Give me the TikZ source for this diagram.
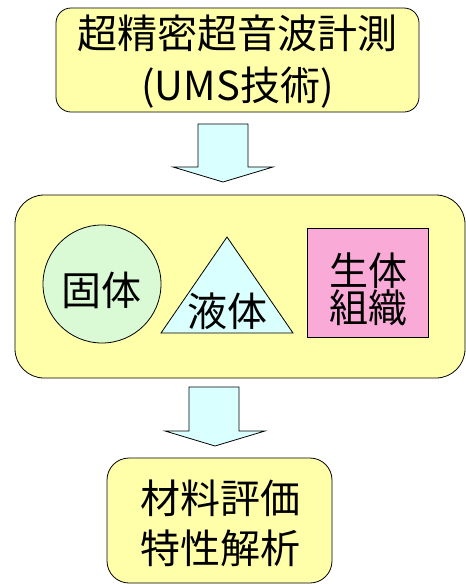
\documentclass[tikz,border=0pt]{standalone}
\usepackage{fontspec}
\setmainfont{Noto Sans CJK JP}
\definecolor{paleyellow}{RGB}{255,255,170}
\definecolor{palegreen}{RGB}{217,250,213}
\definecolor{palecyan}{RGB}{217,255,255}
\definecolor{palepink}{RGB}{250,170,215}
\tikzset{
  bigtext/.style={font=\fontsize{40}{52}\selectfont, align=center, inner sep=0pt},
  thinline/.style={draw=black, line width=0.8pt},
  blockarrow/.style={thinline, fill=palecyan, line join=miter}
}
\begin{document}
\begin{tikzpicture}[x=1pt, y=-1pt]
        \useasboundingbox (0,0) rectangle (466,584);
        \draw [thinline, fill=paleyellow, rounded corners=15pt] (56,8) rectangle (419,112);
        \node [bigtext] (ums) at (237.5,62) {超精密超音波計測\\(UMS技術)};
        \draw [blockarrow] (198,124) -- (248,124) -- (248,167) -- (273,167) -- (223,182) -- (173,167) -- (198,167) -- cycle;
        \draw [thinline, fill=paleyellow, rounded corners=29pt] (15,195) rectangle (465,378);
        \draw [thinline, fill=palegreen] (102,284) circle (59);
        \node [bigtext] (solid) at (101,290) {固体};
        \draw [thinline, fill=palecyan] (227,237) -- (293,333) -- (161,333) -- cycle;
        \node [bigtext] (liquid) at (227,311) {液体};
        \draw [thinline, fill=palepink] (307,228) rectangle (428,337);
        \node [bigtext, font=\fontsize{39}{37}\selectfont] (tissue) at (368,289) {生体\\組織};
        \draw [blockarrow] (189,387) -- (239,387) -- (239,431) -- (265,431) -- (215,446) -- (165,431) -- (189,431) -- cycle;
        \draw [thinline, fill=paleyellow, rounded corners=22pt] (107,458) rectangle (332,583);
        \node [bigtext, font=\fontsize{40}{50}\selectfont] (eval) at (220,523) {材料評価\\特性解析};
\end{tikzpicture}
\end{document}
